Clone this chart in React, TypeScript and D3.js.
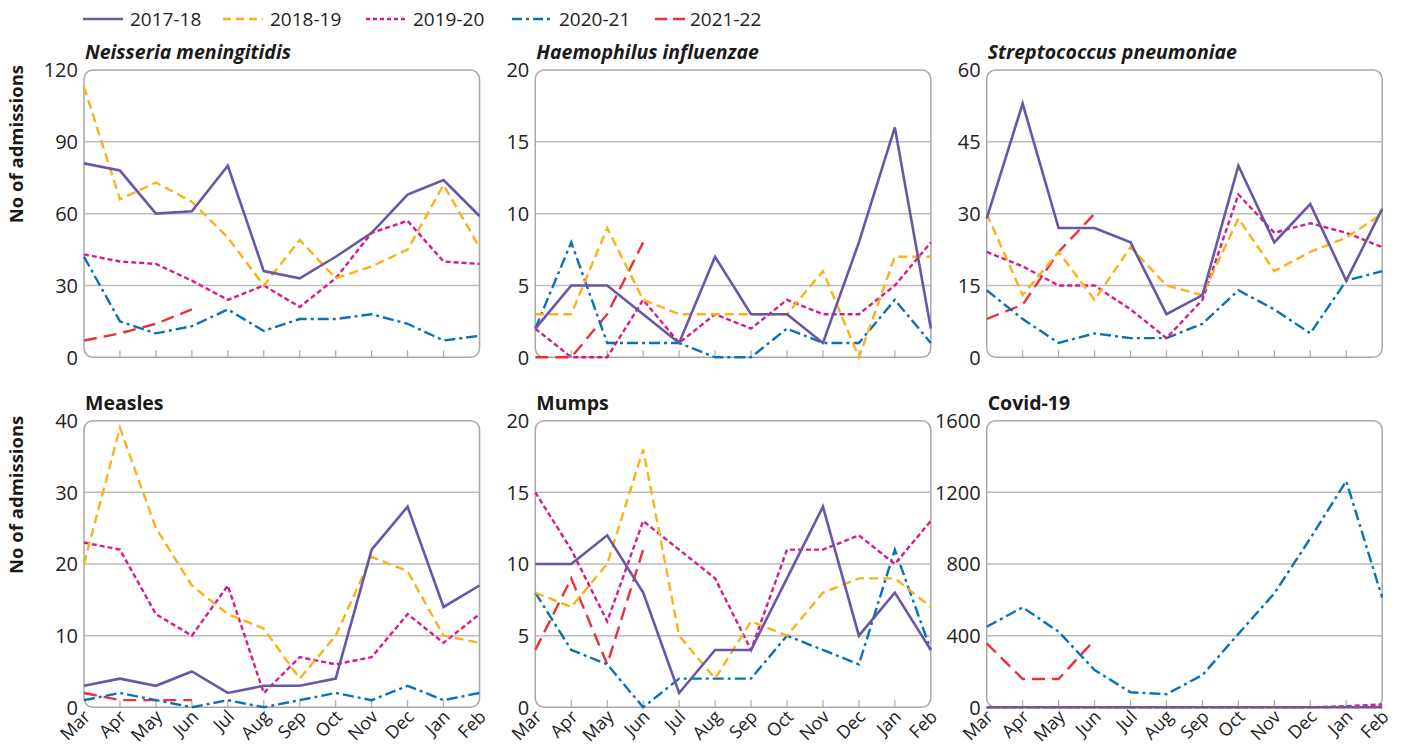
import React from 'react';
import * as d3 from 'd3';

const months = ['Mar', 'Apr', 'May', 'Jun', 'Jul', 'Aug', 'Sep', 'Oct', 'Nov', 'Dec', 'Jan', 'Feb'];
const seasons = ['2017-18', '2018-19', '2019-20', '2020-21', '2021-22'];
const colors = ['#6a56a6', '#fbb118', '#d81b8b', '#0a71b6', '#e8323a'];
const dashes = ['', '9,5', '5,3', '11,4,3,4', '13,7'];
const legendDashes = ['', '8,5', '4,3', '10,4,3,4', '12,6'];

// one array per season, Mar..Feb (2021-22 only up to Jun)
const neisseria = [
  [81, 78, 60, 61, 80, 36, 33, 42, 52, 68, 74, 59],
  [113, 66, 73, 65, 50, 30, 49, 33, 38, 45, 72, 46],
  [43, 40, 39, 32, 24, 30, 21, 33, 52, 57, 40, 39],
  [42, 15, 10, 13, 20, 11, 16, 16, 18, 14, 7, 9],
  [7, 10, 14, 20],
];
const haemophilus = [
  [2, 5, 5, 3, 1, 7, 3, 3, 1, 8, 16, 2],
  [3, 3, 9, 4, 3, 3, 3, 3, 6, 0, 7, 7],
  [2, 0, 0, 4, 1, 3, 2, 4, 3, 3, 5, 8],
  [2, 8, 1, 1, 1, 0, 0, 2, 1, 1, 4, 1],
  [0, 0, 3, 8],
];
const streptococcus = [
  [29, 53, 27, 27, 24, 9, 13, 40, 24, 32, 16, 31],
  [30, 13, 22, 12, 23, 15, 13, 29, 18, 22, 25, 30],
  [22, 19, 15, 15, 10, 4, 12, 34, 26, 28, 26, 23],
  [14, 8, 3, 5, 4, 4, 7, 14, 10, 5, 16, 18],
  [8, 11, 22, 30],
];
const measles = [
  [3, 4, 3, 5, 2, 3, 3, 4, 22, 28, 14, 17],
  [20, 39, 25, 17, 13, 11, 4, 10, 21, 19, 10, 9],
  [23, 22, 13, 10, 17, 2, 7, 6, 7, 13, 9, 13],
  [1, 2, 1, 0, 1, 0, 1, 2, 1, 3, 1, 2],
  [2, 1, 1, 1],
];
const mumps = [
  [10, 10, 12, 8, 1, 4, 4, 9, 14, 5, 8, 4],
  [8, 7, 10, 18, 5, 2, 6, 5, 8, 9, 9, 7],
  [15, 11, 6, 13, 11, 9, 4, 11, 11, 12, 10, 13],
  [8, 4, 3, 0, 2, 2, 2, 5, 4, 3, 11, 4],
  [4, 9, 3, 11],
];
const covid = [
  [0, 0, 0, 0, 0, 0, 0, 0, 0, 0, 0, 0],
  [0, 0, 0, 0, 0, 0, 0, 0, 0, 0, 0, 0],
  [0, 0, 0, 0, 0, 0, 0, 0, 0, 0, 6, 16],
  [450, 558, 422, 208, 84, 73, 180, 410, 636, 943, 1263, 612],
  [357, 158, 158, 376],
];

const panels = [
  { title: 'Neisseria meningitidis', italic: true, max: 120, data: neisseria },
  { title: 'Haemophilus influenzae', italic: true, max: 20, data: haemophilus },
  { title: 'Streptococcus pneumoniae', italic: true, max: 60, data: streptococcus },
  { title: 'Measles', italic: false, max: 40, data: measles },
  { title: 'Mumps', italic: false, max: 20, data: mumps },
  { title: 'Covid-19', italic: false, max: 1600, data: covid },
];

const W = 1402;
const H = 746;
const lefts = [84, 535.3, 986.7];
const pw = 395.5;
const rows = [[70, 357.3], [420.7, 707.3]];
const font = '"Open Sans", "DejaVu Sans", sans-serif';

const Panel: React.FC<{ p: typeof panels[number]; i: number }> = ({ p, i }) => {
  const left = lefts[i % 3];
  const [top, bottom] = rows[Math.floor(i / 3)];
  const x = d3.scalePoint<string>().domain(months).range([left, left + pw]);
  const y = d3.scaleLinear().domain([0, p.max]).range([bottom, top]);
  const ticks = d3.range(0, p.max + 1, p.max / 4);
  const line = d3.line<number>().x((_, j) => x(months[j]) as number).y(d => y(d));
  const order = [4, 3, 2, 1, 0];
  return (
    <g>
      <text x={left + 1} y={top - 11} fontFamily={font} fontSize={19.5} fontWeight={700}
        fontStyle={p.italic ? 'italic' : 'normal'} fill="#1a1a1a">{p.title}</text>
      {ticks.slice(1, -1).map(t => (
        <line key={t} x1={left} x2={left + pw} y1={y(t)} y2={y(t)} stroke="#bcbcbc" strokeWidth={1.5} />
      ))}
      {months.slice(1, -1).map(m => (
        <line key={m} x1={x(m)} x2={x(m)} y1={bottom} y2={bottom - 7} stroke="#aaaaaa" strokeWidth={1.2} />
      ))}
      <rect x={left} y={top} width={pw} height={bottom - top} rx={9} fill="none" stroke="#a8a8a8" strokeWidth={1.5} />
      {ticks.map(t => (
        <text key={t} x={left - 6} y={y(t)} dy="0.36em" textAnchor="end" fontFamily={font}
          fontSize={20} fill="#222">{t}</text>
      ))}
      {order.map(s => (
        <path key={s} d={line(p.data[s]) || ''} fill="none" stroke={colors[s]}
          strokeWidth={s === 0 ? 2.6 : 2.4} strokeDasharray={dashes[s]} />
      ))}
      {i >= 3 && months.map(m => (
        <text key={m} transform={`translate(${(x(m) as number) + 3},${bottom + 6}) rotate(-45)`}
          dy="0.36em" textAnchor="end" fontFamily={font} fontSize={18} fill="#222">{m}</text>
      ))}
    </g>
  );
};

const legendX = [83, 223, 366, 512, 655];

const App: React.FC = () => (
  <svg width={W} height={H} style={{ position: 'absolute', left: 0, top: 0, background: '#fff' }}>
    {seasons.map((s, k) => (
      <g key={s}>
        <line x1={legendX[k]} x2={legendX[k] + (k === 4 ? 30 : 40)} y1={19} y2={19} stroke={colors[k]}
          strokeWidth={2.6} strokeDasharray={legendDashes[k]} />
        <text x={legendX[k] + (k === 4 ? 35 : 47)} y={19} dy="0.36em" fontFamily={font} fontSize={19}
          fill="#222">{s}</text>
      </g>
    ))}
    {[0, 1].map(r => (
      <text key={r} transform={`translate(23,${rows[r][0] - 5}) rotate(-90)`} textAnchor="end"
        fontFamily={font} fontSize={18.5} fontWeight={700} fill="#1a1a1a">No of admissions</text>
    ))}
    {panels.map((p, i) => <Panel key={p.title} p={p} i={i} />)}
  </svg>
);

export default App;
